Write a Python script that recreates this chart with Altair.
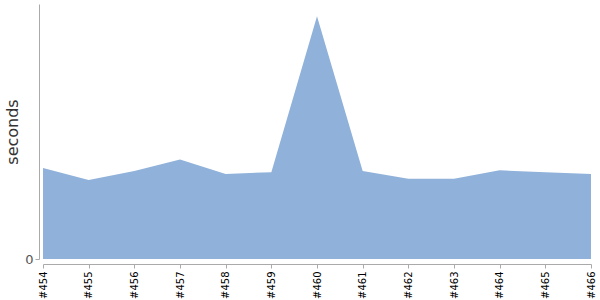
import altair as alt
import pandas as pd

builds = ["#454", "#455", "#456", "#457", "#458", "#459", "#460",
          "#461", "#462", "#463", "#464", "#465", "#466"]
seconds = [7.5, 6.5, 7.25, 8.2, 7.0, 7.15, 20.0, 7.25, 6.6, 6.6, 7.3, 7.15, 7.0]

df = pd.DataFrame({"build": builds, "seconds": seconds})

chart = alt.Chart(df).mark_area(color="#8fb1da", opacity=1, interpolate="linear").encode(
    x=alt.X("build:O", sort=builds,
            scale=alt.Scale(type="point", padding=0),
            axis=alt.Axis(title=None, labelAngle=-90, labelFont="DejaVu Sans",
                          labelFontSize=10, labelColor="#000", labelPadding=3,
                          tickSize=4, tickColor="#aaa", domainColor="#aaa",
                          offset=5, grid=False)),
    y=alt.Y("seconds:Q", scale=alt.Scale(domain=[0, 21], nice=False),
            axis=alt.Axis(title="seconds", values=[0], labelFont="DejaVu Sans",
                          labelFontSize=13, labelColor="#555", tickSize=4,
                          tickColor="#aaa", domainColor="#aaa", offset=4,
                          titleFont="DejaVu Sans", titleFontSize=16,
                          titleFontWeight="normal", titleColor="#333",
                          titlePadding=4, grid=False)),
).properties(
    width=548, height=255,
    autosize="none",
    padding={"left": 43, "top": 4, "right": 9, "bottom": 41},
).configure_view(stroke=None)

chart.save("out.html", embed_options={"renderer": "svg", "actions": False})
